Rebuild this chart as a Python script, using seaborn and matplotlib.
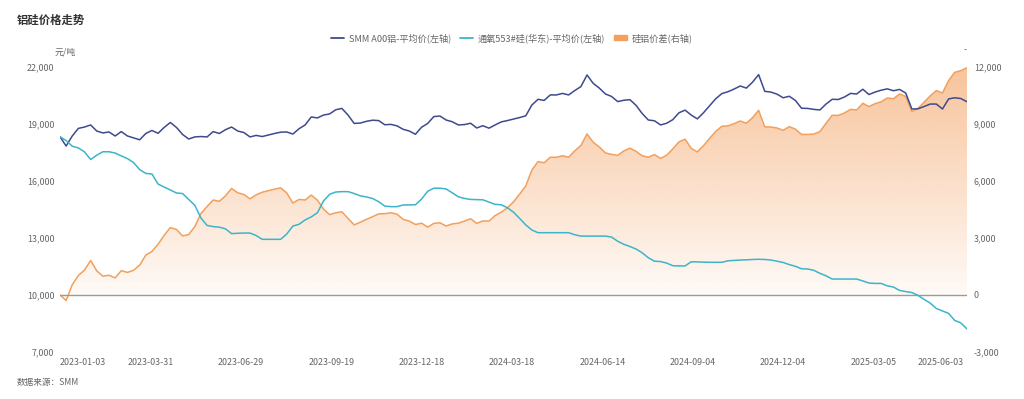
import numpy as np
import pandas as pd
import matplotlib
matplotlib.use("Agg")
import matplotlib.pyplot as plt
import seaborn as sns
from matplotlib.lines import Line2D
from matplotlib.patches import Patch
from matplotlib.ticker import FuncFormatter, FixedLocator

# ---------------- data (sampled every 4 trading days from 2023-01-03) ----------------
step_days = 4
al_price = [18330, 17840, 18370, 18770, 18840, 18950, 18630, 18530, 18580, 18370,
            18600, 18370, 18270, 18170, 18500, 18660, 18510, 18820, 19080, 18820,
            18450, 18210, 18320, 18340, 18320, 18600, 18500, 18700, 18840, 18630,
            18550, 18320, 18400, 18340, 18420, 18500, 18570, 18580, 18470, 18750,
            18950, 19370, 19320, 19470, 19530, 19750, 19820, 19470, 19030, 19050,
            19140, 19200, 19180, 18960, 18980, 18900, 18720, 18630, 18460, 18830,
            19030, 19390, 19420, 19210, 19120, 18950, 18970, 19040, 18790, 18910,
            18780, 18950, 19110, 19180, 19260, 19340, 19430, 20000, 20300, 20240,
            20530, 20530, 20610, 20530, 20760, 20970, 21580, 21140, 20890, 20580,
            20450, 20180, 20250, 20280, 19980, 19550, 19210, 19170, 18950, 19040,
            19230, 19590, 19730, 19470, 19270, 19590, 19960, 20330, 20600, 20700,
            20840, 21000, 20890, 21200, 21600, 20720, 20680, 20570, 20380, 20460,
            20240, 19830, 19820, 19770, 19740, 20050, 20300, 20290, 20420, 20610,
            20580, 20830, 20550, 20680, 20780, 20850, 20750, 20820, 20630, 19790,
            19800, 19920, 20050, 20050, 19790, 20320, 20380, 20340, 20170]
si_price = [18330, 18130, 17830, 17740, 17530, 17130, 17360, 17540, 17540, 17470,
            17320, 17180, 16970, 16600, 16400, 16370, 15840, 15680, 15530, 15370,
            15340, 15030, 14720, 14050, 13660, 13600, 13570, 13480, 13230, 13250,
            13260, 13260, 13130, 12930, 12930, 12930, 12930, 13210, 13630, 13720,
            13950, 14110, 14330, 14950, 15300, 15420, 15440, 15440, 15340, 15220,
            15160, 15080, 14910, 14680, 14650, 14650, 14740, 14740, 14750, 15050,
            15460, 15620, 15620, 15580, 15380, 15170, 15080, 15030, 15020, 15010,
            14890, 14770, 14750, 14590, 14360, 14030, 13690, 13420, 13280, 13280,
            13280, 13280, 13280, 13280, 13170, 13100, 13100, 13100, 13100, 13100,
            13050, 12830, 12670, 12550, 12420, 12220, 11960, 11780, 11760, 11680,
            11540, 11530, 11530, 11750, 11740, 11730, 11720, 11720, 11720, 11800,
            11820, 11840, 11850, 11870, 11880, 11870, 11840, 11780, 11710, 11600,
            11510, 11380, 11370, 11300, 11140, 11010, 10840, 10840, 10840, 10840,
            10840, 10740, 10630, 10610, 10610, 10480, 10420, 10240, 10180, 10130,
            9980, 9770, 9570, 9290, 9160, 9030, 8660, 8530, 8210]
tick_labels = ["2023-01-03", "2023-03-31", "2023-06-29", "2023-09-19", "2023-12-18",
               "2024-03-18", "2024-06-14", "2024-09-04", "2024-12-04", "2025-03-05",
               "2025-06-03"]
tick_every = 59  # trading days between labels
left_ticks = [7000, 10000, 13000, 16000, 19000, 22000]
right_ticks = [-3000, 0, 3000, 6000, 9000, 12000]

series_names = ["SMM A00铝-平均价(左轴)", "通氧553#硅(华东)-平均价(左轴)", "硅铝价差(右轴)"]
title = "铝硅价格走势"
source = "数据来源：SMM"

# ---------------- build frame ----------------
day_idx = np.arange(len(al_price)) * step_days
spread = np.array(al_price) - np.array(si_price)
df = pd.DataFrame({"day": day_idx, "al": al_price, "si": si_price, "spread": spread})

C_AL = "#3e4a8e"
C_SI = "#3cb4ca"
C_SP = "#f2a05c"
C_TXT = "#666666"

sns.set_theme(style="white")
plt.rcParams["font.family"] = ["Noto Sans CJK SC", "DejaVu Sans"]

fig = plt.figure(figsize=(10.24, 3.99), dpi=100)
ax = fig.add_axes([60 / 1024, 1 - 352 / 399, 907 / 1024, 285 / 399])
ax2 = ax.twinx()

xmax = day_idx[-1]

# spread with gradient fill (right axis)
poly = ax2.fill_between(df["day"], 0, df["spread"], color="none", lw=0)
n = 256
alpha = np.linspace(0.62, 0.03, n)
rgba = np.zeros((n, 1, 4))
rgba[..., 0] = 243 / 255
rgba[..., 1] = 158 / 255
rgba[..., 2] = 92 / 255
rgba[:, 0, 3] = alpha
img = ax2.imshow(rgba, extent=(0, xmax, -500, 12100), aspect="auto",
                 origin="upper", zorder=1, interpolation="bilinear")
img.set_clip_path(poly.get_paths()[0], transform=ax2.transData)
sns.lineplot(data=df, x="day", y="spread", ax=ax2, color=C_SP, lw=1.1, zorder=2)

# prices (left axis)
ax.axhline(10000, color="#9a9a9a", lw=1.0, zorder=1)
sns.lineplot(data=df, x="day", y="al", ax=ax, color=C_AL, lw=1.1, zorder=3)
sns.lineplot(data=df, x="day", y="si", ax=ax, color=C_SI, lw=1.1, zorder=3)

ax.set_zorder(ax2.get_zorder() + 1)
ax.patch.set_visible(False)

ax.set_xlim(0, xmax)
ax2.set_xlim(0, xmax)
ax.set_ylim(7000, 22000)
ax2.set_ylim(-3000, 12000)

fmt = FuncFormatter(lambda v, p: f"{v:,.0f}")
ax.yaxis.set_major_locator(FixedLocator(left_ticks))
ax.yaxis.set_major_formatter(fmt)
ax2.yaxis.set_major_locator(FixedLocator(right_ticks))
ax2.yaxis.set_major_formatter(fmt)

tick_pos = [i * tick_every for i in range(len(tick_labels))]
ax.set_xticks(tick_pos)
ax.set_xticklabels(tick_labels)
xl = ax.get_xticklabels()
xl[0].set_ha("left")
xl[-1].set_ha("right")

for a in (ax, ax2):
    a.set_xlabel("")
    a.set_ylabel("")
    a.grid(False)
    for s in a.spines.values():
        s.set_visible(False)
    a.tick_params(length=0, labelsize=6.4, labelcolor=C_TXT)
ax.tick_params(axis="y", pad=4)
ax2.tick_params(axis="y", pad=5)
ax.tick_params(axis="x", pad=4)

# axis names
fig.text(65 / 1024, 1 - 52 / 399, "元/吨", ha="center", va="center", fontsize=6.4, color=C_TXT)
fig.text(965 / 1024, 1 - 50 / 399, "-", ha="center", va="center", fontsize=6.4, color=C_TXT)

# title & source
fig.text(17 / 1024, 1 - 20 / 399, title, ha="left", va="center", fontsize=8.2,
         fontweight="bold", color="#333333")
fig.text(17 / 1024, 1 - 382 / 399, source, ha="left", va="center", fontsize=6.2, color=C_TXT)

# legend
handles = [Line2D([], [], color=C_AL, lw=1.3),
           Line2D([], [], color=C_SI, lw=1.3),
           Patch(facecolor=C_SP, edgecolor=C_SP)]
leg = fig.legend(handles, series_names, loc="center", bbox_to_anchor=(0.5, 1 - 38 / 399),
                 ncol=3, frameon=False, fontsize=6.6, handlelength=1.4, handleheight=0.5,
                 handletextpad=0.5, columnspacing=1.0, labelcolor=C_TXT)

fig.savefig("out.png", dpi=100)
